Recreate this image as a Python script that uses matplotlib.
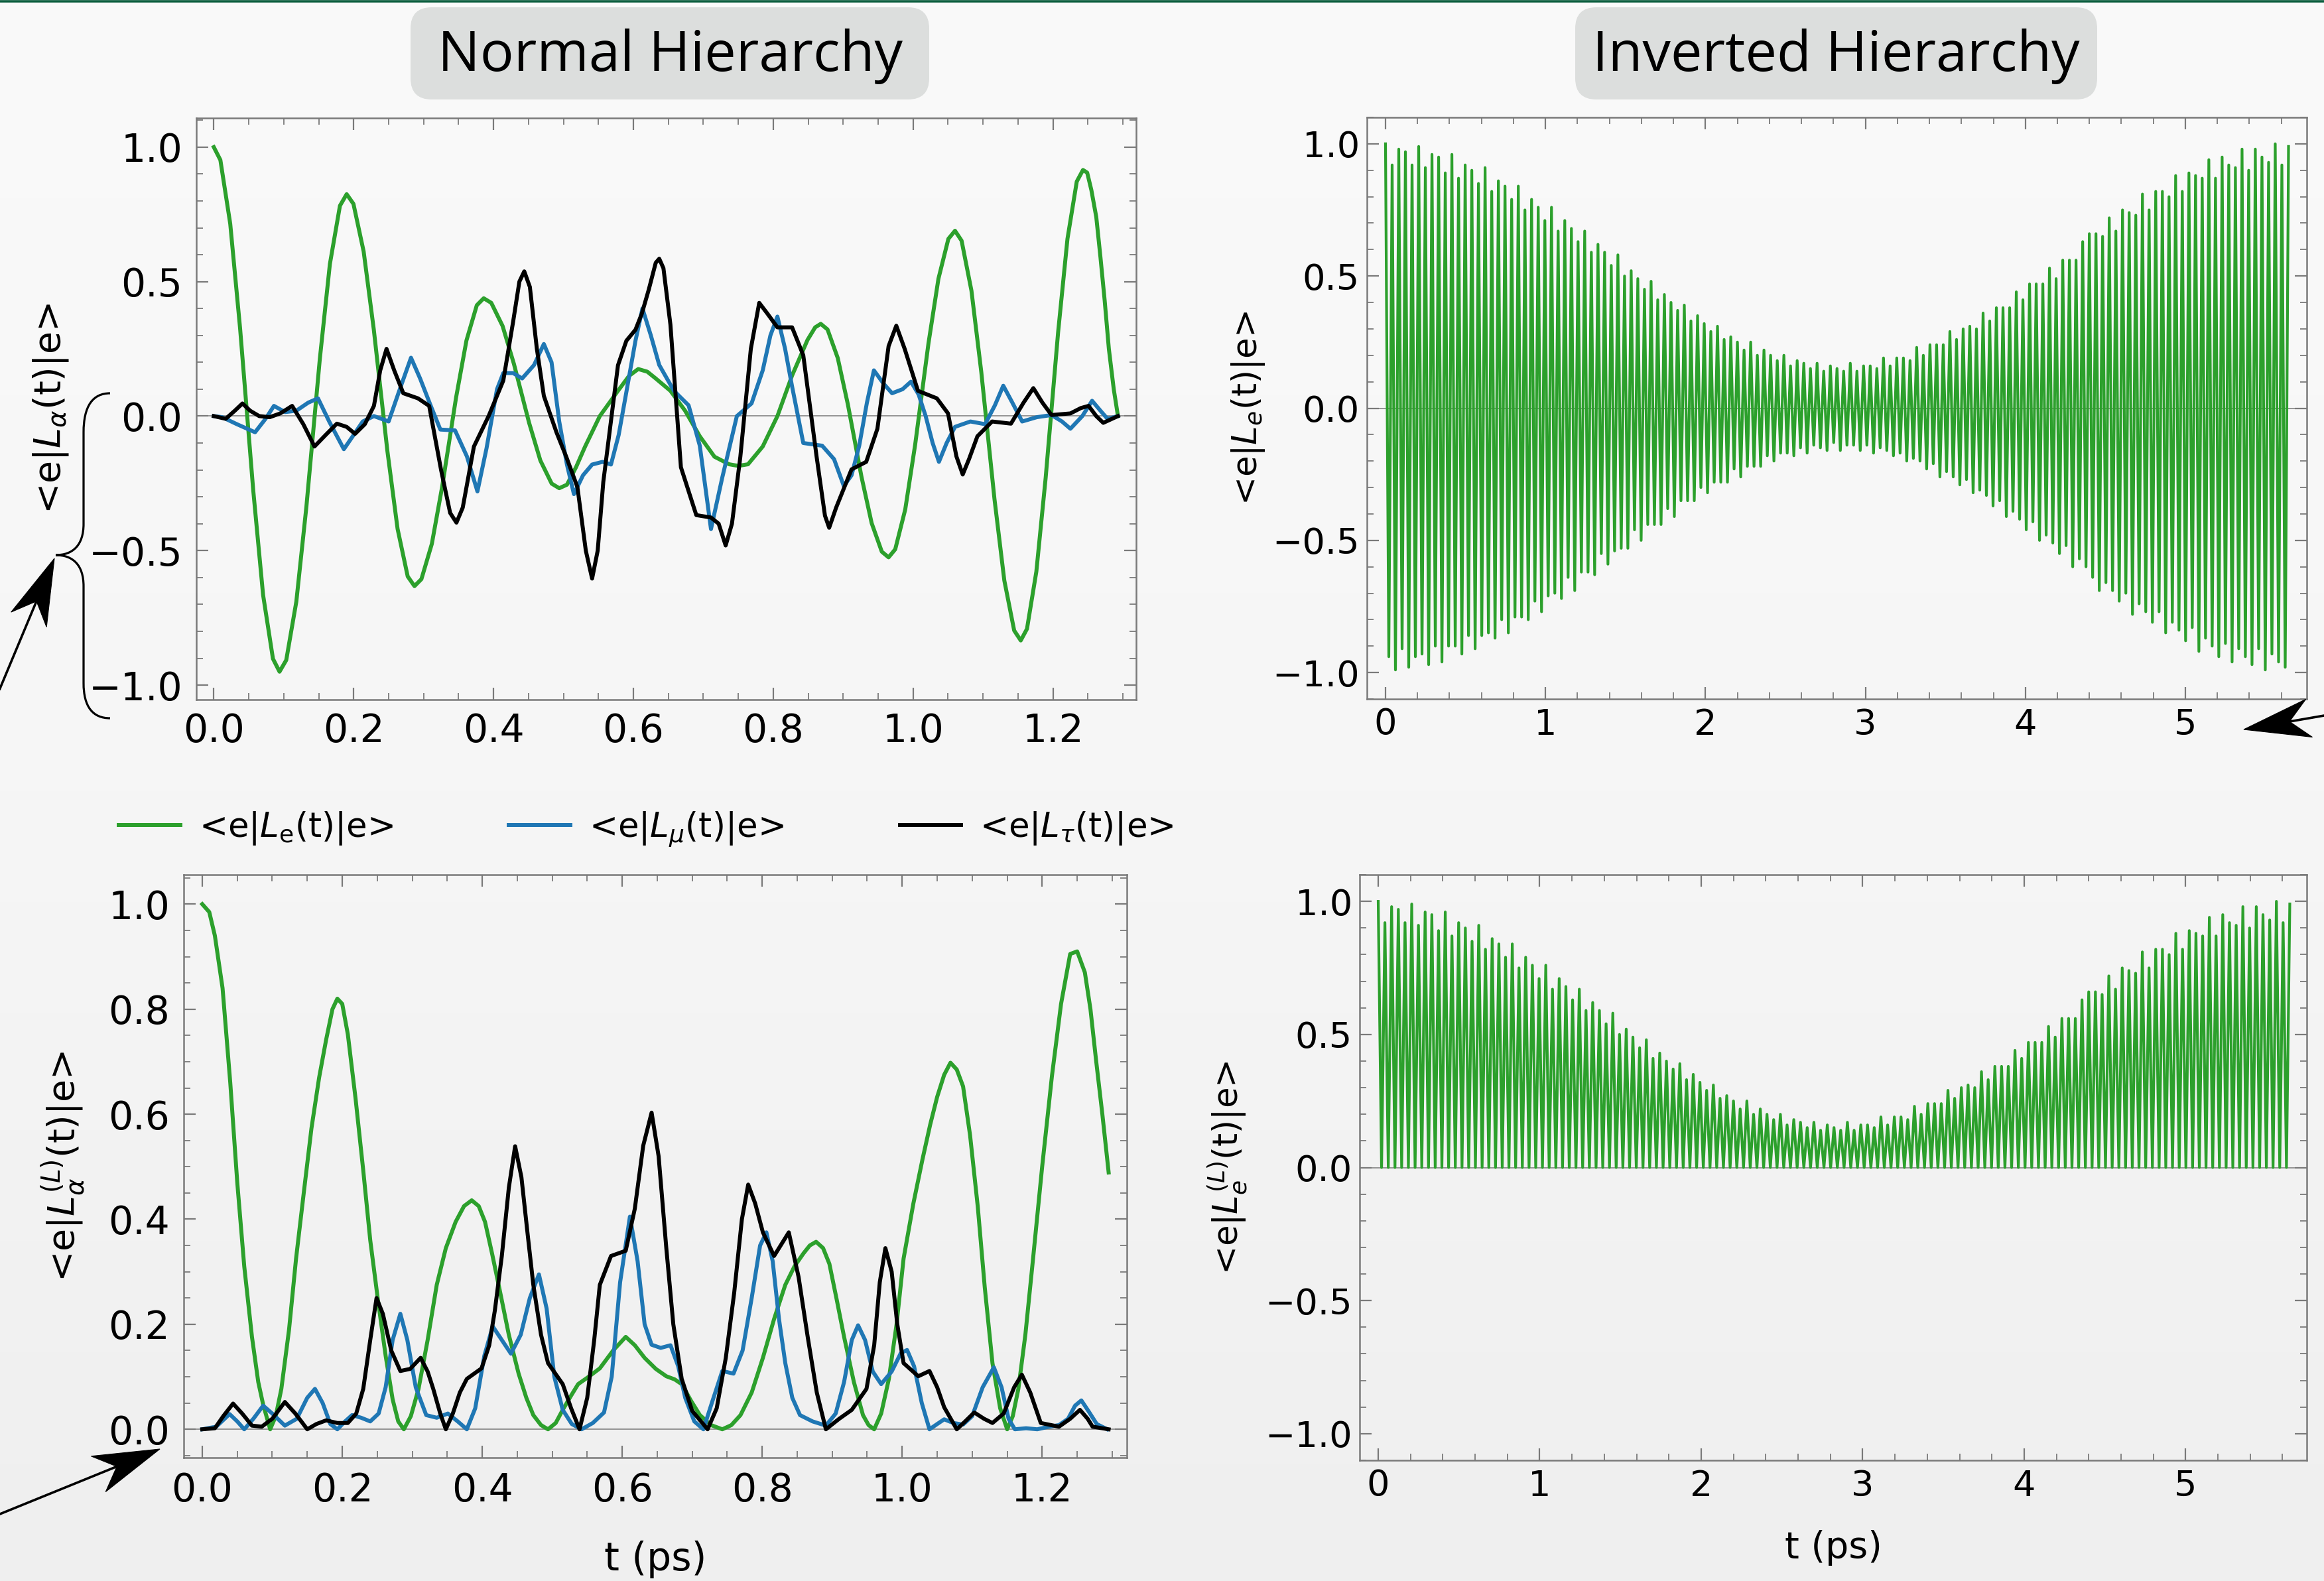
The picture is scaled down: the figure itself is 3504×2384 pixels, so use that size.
import numpy as np
import matplotlib
matplotlib.use("Agg")
import matplotlib.pyplot as plt
from matplotlib.ticker import MultipleLocator
from matplotlib.patches import FancyBboxPatch, PathPatch, Polygon
from matplotlib.path import Path
from matplotlib.lines import Line2D
from matplotlib.colors import LinearSegmentedColormap

# ---------------- data ----------------
# Normal hierarchy, <e|L_alpha(t)|e>   (t in ps, value)
NH_GREEN = [(0.0, 1.0), (0.0094, 0.952), (0.0235, 0.715), (0.0376, 0.326), (0.0564, -0.276), (0.0705, -0.665),
            (0.0846, -0.902), (0.094, -0.95), (0.1036, -0.907), (0.118, -0.690), (0.1324, -0.337), (0.1516, 0.212),
            (0.166, 0.565), (0.1804, 0.782), (0.190, 0.825), (0.1997, 0.789), (0.2143, 0.612), (0.2288, 0.322),
            (0.2482, -0.129), (0.2628, -0.419), (0.2773, -0.596), (0.287, -0.632), (0.2969, -0.606), (0.3118, -0.475),
            (0.3266, -0.262), (0.3464, 0.068), (0.3613, 0.281), (0.3761, 0.412), (0.386, 0.438), (0.3968, 0.421),
            (0.413, 0.335), (0.4292, 0.194), (0.4508, -0.024), (0.467, -0.165), (0.4832, -0.251), (0.494, -0.268),
            (0.505, -0.255), (0.518, -0.19), (0.531, -0.113), (0.552, 0.0), (0.578, 0.094), (0.594, 0.15),
            (0.607, 0.175), (0.620, 0.165), (0.631, 0.142), (0.653, 0.094), (0.674, 0.02), (0.695, -0.075),
            (0.716, -0.151), (0.737, -0.179), (0.750, -0.185), (0.764, -0.179), (0.785, -0.113), (0.806, 0.0),
            (0.827, 0.151), (0.849, 0.283), (0.860, 0.33), (0.868, 0.343), (0.8777, 0.322), (0.8923, 0.216),
            (0.9068, 0.043), (0.9262, -0.225), (0.9408, -0.398), (0.9553, -0.504), (0.965, -0.525), (0.9745, -0.495),
            (0.9888, -0.347), (1.003, -0.106), (1.022, 0.270), (1.0363, 0.511), (1.0505, 0.659), (1.060, 0.689),
            (1.0694, 0.652), (1.0835, 0.466), (1.0976, 0.163), (1.1164, -0.308), (1.1305, -0.611), (1.1446, -0.797),
            (1.154, -0.834), (1.1629, -0.791), (1.1763, -0.578), (1.1896, -0.230), (1.2074, 0.311), (1.2208, 0.659),
            (1.2341, 0.872), (1.243, 0.915), (1.249, 0.905), (1.255, 0.84), (1.262, 0.74), (1.268, 0.59),
            (1.274, 0.43), (1.280, 0.25), (1.287, 0.10), (1.293, 0.0)]

NH_BLUE = [(0.0, 0.0), (0.012, -0.004), (0.033, -0.03), (0.059, -0.06), (0.074, -0.01), (0.086, 0.038), (0.102, 0.015),
           (0.118, 0.02), (0.135, 0.05), (0.149, 0.066), (0.165, -0.02), (0.186, -0.123), (0.200, -0.07), (0.213, -0.02),
           (0.229, 0.0), (0.250, -0.02), (0.266, 0.10), (0.282, 0.217), (0.295, 0.14), (0.310, 0.04), (0.324, -0.05),
           (0.345, -0.053), (0.362, -0.15), (0.377, -0.28), (0.390, -0.12), (0.405, 0.10), (0.414, 0.16), (0.428, 0.16),
           (0.441, 0.14), (0.458, 0.19), (0.472, 0.268), (0.483, 0.20), (0.494, -0.02), (0.505, -0.18), (0.515, -0.29),
           (0.528, -0.22), (0.541, -0.18), (0.556, -0.17), (0.568, -0.18), (0.579, -0.07), (0.589, 0.075), (0.603, 0.28),
           (0.613, 0.40), (0.625, 0.30), (0.637, 0.19), (0.658, 0.094), (0.679, 0.04), (0.695, -0.11), (0.711, -0.42),
           (0.727, -0.23), (0.748, 0.0), (0.769, 0.047), (0.785, 0.17), (0.796, 0.30), (0.806, 0.37), (0.817, 0.25),
           (0.827, 0.11), (0.843, -0.10), (0.870, -0.11), (0.887, -0.16), (0.901, -0.26), (0.912, -0.22), (0.923, -0.11),
           (0.934, 0.05), (0.944, 0.17), (0.958, 0.12), (0.970, 0.085), (0.985, 0.10), (0.997, 0.128), (1.008, 0.08),
           (1.018, 0.0), (1.028, -0.10), (1.037, -0.17), (1.048, -0.10), (1.060, -0.04), (1.082, -0.02), (1.103, -0.03),
           (1.117, 0.04), (1.129, 0.113), (1.142, 0.05), (1.156, -0.02), (1.177, -0.004), (1.198, 0.004), (1.213, -0.02),
           (1.225, -0.047), (1.242, 0.0), (1.256, 0.057), (1.268, 0.02), (1.278, -0.01), (1.293, 0.0)]

NH_BLACK = [(0.0, 0.0), (0.017, -0.01), (0.030, 0.02), (0.041, 0.047), (0.052, 0.02), (0.065, 0.0), (0.080, -0.004),
            (0.095, 0.01), (0.112, 0.038), (0.128, -0.03), (0.144, -0.113), (0.160, -0.07), (0.176, -0.028),
            (0.190, -0.04), (0.202, -0.066), (0.216, -0.03), (0.229, 0.038), (0.238, 0.17), (0.247, 0.25),
            (0.258, 0.17), (0.271, 0.085), (0.292, 0.066), (0.308, 0.038), (0.325, -0.20), (0.338, -0.36),
            (0.347, -0.396), (0.356, -0.34), (0.372, -0.113), (0.393, 0.0), (0.414, 0.132), (0.428, 0.35),
            (0.437, 0.50), (0.444, 0.538), (0.452, 0.48), (0.462, 0.25), (0.472, 0.075), (0.490, -0.06),
            (0.504, -0.151), (0.520, -0.264), (0.532, -0.50), (0.541, -0.604), (0.549, -0.50), (0.557, -0.245),
            (0.578, 0.189), (0.590, 0.28), (0.603, 0.321), (0.612, 0.38), (0.622, 0.47), (0.632, 0.57), (0.637, 0.585),
            (0.643, 0.55), (0.653, 0.34), (0.668, -0.19), (0.690, -0.368), (0.711, -0.377), (0.722, -0.40),
            (0.732, -0.481), (0.741, -0.40), (0.753, -0.151), (0.768, 0.25), (0.780, 0.421), (0.792, 0.38),
            (0.806, 0.33), (0.827, 0.33), (0.843, 0.226), (0.862, -0.15), (0.874, -0.37), (0.880, -0.415),
            (0.890, -0.34), (0.912, -0.198), (0.933, -0.17), (0.949, -0.047), (0.965, 0.26), (0.976, 0.336),
            (0.988, 0.25), (1.007, 0.094), (1.034, 0.066), (1.050, 0.01), (1.062, -0.15), (1.071, -0.217),
            (1.080, -0.16), (1.092, -0.075), (1.113, -0.02), (1.140, -0.028), (1.158, 0.05), (1.172, 0.104),
            (1.185, 0.05), (1.198, 0.004), (1.225, 0.01), (1.240, 0.03), (1.251, 0.038), (1.262, 0.0),
            (1.272, -0.025), (1.293, 0.0)]

# Normal hierarchy, <e|L^(L)_alpha(t)|e>
NHL_GREEN = [(0.0, 1.0), (0.010, 0.985), (0.018, 0.94), (0.029, 0.84), (0.040, 0.66), (0.050, 0.47), (0.060, 0.31),
             (0.071, 0.176), (0.080, 0.09), (0.087, 0.047), (0.097, 0.0), (0.105, 0.025), (0.113, 0.077), (0.124, 0.19),
             (0.134, 0.325), (0.145, 0.45), (0.156, 0.573), (0.167, 0.67), (0.177, 0.742), (0.186, 0.80), (0.193, 0.82),
             (0.200, 0.81), (0.208, 0.752), (0.219, 0.63), (0.230, 0.493), (0.240, 0.36), (0.251, 0.246), (0.262, 0.14),
             (0.272, 0.057), (0.280, 0.015), (0.288, 0.0), (0.298, 0.025), (0.309, 0.077), (0.322, 0.17), (0.335, 0.275),
             (0.348, 0.345), (0.362, 0.395), (0.374, 0.425), (0.385, 0.436), (0.395, 0.425), (0.404, 0.395),
             (0.414, 0.335), (0.425, 0.265), (0.438, 0.18), (0.452, 0.106), (0.463, 0.06), (0.473, 0.027),
             (0.484, 0.008), (0.494, 0.0), (0.505, 0.012), (0.515, 0.037), (0.526, 0.062), (0.537, 0.086),
             (0.552, 0.10), (0.568, 0.116), (0.587, 0.15), (0.605, 0.176), (0.618, 0.16), (0.632, 0.136),
             (0.648, 0.115), (0.663, 0.101), (0.675, 0.095), (0.685, 0.086), (0.698, 0.055), (0.711, 0.027),
             (0.727, 0.008), (0.743, 0.0), (0.756, 0.008), (0.769, 0.027), (0.785, 0.07), (0.801, 0.136), (0.817, 0.21),
             (0.833, 0.275), (0.846, 0.31), (0.859, 0.335), (0.868, 0.35), (0.877, 0.357), (0.887, 0.345),
             (0.896, 0.315), (0.906, 0.25), (0.917, 0.176), (0.931, 0.09), (0.944, 0.027), (0.952, 0.008),
             (0.960, 0.0), (0.970, 0.03), (0.981, 0.096), (0.992, 0.20), (1.002, 0.325), (1.016, 0.43), (1.029, 0.514),
             (1.040, 0.58), (1.050, 0.633), (1.060, 0.675), (1.069, 0.698), (1.078, 0.685), (1.087, 0.653),
             (1.097, 0.56), (1.108, 0.424), (1.118, 0.27), (1.129, 0.126), (1.140, 0.04), (1.150, 0.0), (1.158, 0.025),
             (1.166, 0.077), (1.176, 0.18), (1.187, 0.325), (1.200, 0.50), (1.214, 0.673), (1.227, 0.81),
             (1.240, 0.905), (1.250, 0.91), (1.261, 0.87), (1.269, 0.80), (1.277, 0.703), (1.286, 0.60), (1.295, 0.489)]

NHL_BLUE = [(0.0, 0.0), (0.02, 0.005), (0.039, 0.029), (0.05, 0.015), (0.06, 0.0), (0.073, 0.02), (0.087, 0.045),
            (0.1, 0.03), (0.118, 0.007), (0.135, 0.02), (0.15, 0.06), (0.161, 0.077), (0.172, 0.05), (0.183, 0.01),
            (0.193, 0.0), (0.204, 0.015), (0.214, 0.027), (0.227, 0.022), (0.24, 0.015), (0.252, 0.03), (0.262, 0.08),
            (0.272, 0.17), (0.283, 0.22), (0.293, 0.17), (0.305, 0.08), (0.32, 0.027), (0.335, 0.022), (0.351, 0.03),
            (0.365, 0.015), (0.378, 0.0), (0.39, 0.04), (0.403, 0.14), (0.415, 0.196), (0.428, 0.17), (0.441, 0.144),
            (0.455, 0.18), (0.468, 0.25), (0.481, 0.295), (0.492, 0.23), (0.503, 0.10), (0.515, 0.037), (0.528, 0.01),
            (0.542, 0.0), (0.558, 0.012), (0.574, 0.032), (0.585, 0.10), (0.597, 0.28), (0.611, 0.405), (0.622, 0.32),
            (0.632, 0.20), (0.642, 0.161), (0.655, 0.155), (0.669, 0.16), (0.68, 0.12), (0.69, 0.06), (0.703, 0.015),
            (0.716, 0.0), (0.728, 0.05), (0.743, 0.111), (0.759, 0.106), (0.772, 0.15), (0.785, 0.25), (0.797, 0.35),
            (0.806, 0.375), (0.815, 0.32), (0.824, 0.21), (0.833, 0.126), (0.843, 0.06), (0.854, 0.027),
            (0.872, 0.015), (0.891, 0.007), (0.905, 0.03), (0.917, 0.09), (0.928, 0.17), (0.937, 0.198),
            (0.947, 0.17), (0.958, 0.11), (0.97, 0.086), (0.985, 0.11), (0.998, 0.145), (1.007, 0.151),
            (1.017, 0.12), (1.028, 0.05), (1.039, 0.0), (1.05, 0.01), (1.06, 0.019), (1.073, 0.012), (1.087, 0.009),
            (1.1, 0.025), (1.115, 0.08), (1.131, 0.118), (1.142, 0.08), (1.152, 0.02), (1.161, 0.0), (1.177, 0.002),
            (1.193, 0.0), (1.21, 0.005), (1.224, 0.008), (1.237, 0.02), (1.247, 0.045), (1.256, 0.055),
            (1.266, 0.035), (1.278, 0.01), (1.293, 0.0)]

NHL_BLACK = [(0.0, 0.0), (0.018, 0.002), (0.03, 0.025), (0.044, 0.049), (0.057, 0.03), (0.071, 0.007), (0.085, 0.005),
             (0.1, 0.02), (0.118, 0.052), (0.133, 0.03), (0.15, 0.0), (0.163, 0.01), (0.177, 0.017), (0.193, 0.012),
             (0.208, 0.012), (0.22, 0.03), (0.23, 0.077), (0.24, 0.17), (0.249, 0.25), (0.258, 0.22), (0.27, 0.15),
             (0.283, 0.111), (0.297, 0.115), (0.312, 0.136), (0.322, 0.11), (0.33, 0.077), (0.34, 0.03), (0.348, 0.0),
             (0.358, 0.03), (0.368, 0.07), (0.378, 0.096), (0.399, 0.116), (0.41, 0.16), (0.418, 0.226), (0.428, 0.33),
             (0.438, 0.46), (0.447, 0.539), (0.456, 0.48), (0.465, 0.37), (0.473, 0.275), (0.484, 0.18), (0.494, 0.126),
             (0.515, 0.086), (0.527, 0.04), (0.539, 0.0), (0.55, 0.06), (0.56, 0.17), (0.568, 0.275), (0.584, 0.33),
             (0.605, 0.34), (0.618, 0.42), (0.63, 0.54), (0.642, 0.603), (0.652, 0.52), (0.663, 0.345), (0.673, 0.2),
             (0.685, 0.096), (0.7, 0.035), (0.722, 0.0), (0.735, 0.04), (0.748, 0.136), (0.76, 0.26), (0.771, 0.40),
             (0.78, 0.466), (0.79, 0.43), (0.801, 0.375), (0.817, 0.33), (0.838, 0.375), (0.852, 0.29), (0.865, 0.176),
             (0.878, 0.07), (0.891, 0.0), (0.91, 0.02), (0.928, 0.037), (0.949, 0.077), (0.96, 0.16), (0.968, 0.28),
             (0.976, 0.345), (0.985, 0.30), (0.993, 0.2), (1.002, 0.126), (1.023, 0.101), (1.039, 0.111), (1.05, 0.08),
             (1.06, 0.042), (1.078, 0.0), (1.09, 0.015), (1.103, 0.032), (1.117, 0.02), (1.129, 0.012), (1.145, 0.03),
             (1.16, 0.08), (1.171, 0.104), (1.183, 0.07), (1.198, 0.012), (1.224, 0.005), (1.24, 0.02), (1.254, 0.037),
             (1.265, 0.02), (1.272, 0.005), (1.295, 0.0)]

# Inverted hierarchy: successive maxima and minima of the fast oscillation
IH_T_END = 5.645
IH_PEAKS = [1.00, 0.92, 0.98, 0.97, 0.92, 0.99, 0.91, 0.96, 0.95, 0.89, 0.96, 0.87, 0.92, 0.90, 0.85, 0.91, 0.82,
            0.86, 0.84, 0.79, 0.84, 0.75, 0.79, 0.76, 0.71,
            0.76, 0.67, 0.71, 0.68, 0.63, 0.67, 0.59, 0.62, 0.59, 0.54, 0.58, 0.50, 0.52, 0.49, 0.45, 0.48, 0.41,
            0.43, 0.40, 0.37, 0.39, 0.33, 0.35, 0.32, 0.29,
            0.31, 0.26, 0.27, 0.25, 0.22, 0.25, 0.20, 0.22, 0.20, 0.18, 0.20, 0.16, 0.18, 0.17, 0.15, 0.17, 0.14,
            0.16, 0.15, 0.14, 0.17, 0.14, 0.16, 0.16, 0.15,
            0.19, 0.16, 0.19, 0.19, 0.18, 0.23, 0.20, 0.24, 0.24, 0.24, 0.29, 0.26, 0.30, 0.31, 0.30, 0.36, 0.33,
            0.38, 0.38, 0.38, 0.44, 0.41, 0.47, 0.47, 0.47,
            0.53, 0.49, 0.56, 0.56, 0.56, 0.63, 0.66, 0.66, 0.65, 0.72, 0.67, 0.75, 0.74, 0.73, 0.81, 0.75, 0.82,
            0.82, 0.80, 0.88, 0.82, 0.89, 0.88, 0.87,
            0.94, 0.87, 0.95, 0.92, 0.91, 0.98, 0.90, 0.98, 0.95, 0.93, 1.00, 0.92, 0.99]
IH_TROUGHS = [-0.94, -0.99, -0.91, -0.98, -0.94, -0.93, -0.97, -0.90, -0.96, -0.90, -0.90, -0.93, -0.86, -0.91,
              -0.86, -0.85, -0.87, -0.80, -0.85, -0.79, -0.79, -0.80, -0.73, -0.77,
              -0.71, -0.70, -0.72, -0.64, -0.69, -0.62, -0.62, -0.63, -0.55, -0.59, -0.54, -0.53, -0.53, -0.46,
              -0.50, -0.44, -0.44, -0.44, -0.38, -0.41, -0.35, -0.35, -0.35, -0.30, -0.32,
              -0.28, -0.28, -0.28, -0.23, -0.26, -0.22, -0.22, -0.22, -0.18, -0.20, -0.17, -0.17, -0.18, -0.15,
              -0.17, -0.14, -0.15, -0.16, -0.13, -0.16, -0.14, -0.14, -0.16, -0.14, -0.17,
              -0.15, -0.16, -0.18, -0.17, -0.20, -0.19, -0.20, -0.23, -0.21, -0.26, -0.24, -0.26, -0.29, -0.27,
              -0.32, -0.31, -0.33, -0.37, -0.35, -0.41, -0.39, -0.42, -0.46, -0.43, -0.50,
              -0.48, -0.51, -0.55, -0.52, -0.60, -0.57, -0.60, -0.64, -0.69, -0.66, -0.69, -0.73, -0.70, -0.78,
              -0.74, -0.77, -0.81, -0.77, -0.85, -0.81, -0.84, -0.88, -0.83, -0.92, -0.87,
              -0.90, -0.94, -0.89, -0.96, -0.91, -0.94, -0.97, -0.91, -0.99, -0.93, -0.96, -0.98]

LEGEND_LABELS = [r"<e|$L_\mathrm{e}$(t)|e>", r"<e|$L_\mu$(t)|e>", r"<e|$L_\tau$(t)|e>"]
TITLES = ["Normal Hierarchy", "Inverted Hierarchy"]

# ---------------- figure ----------------
W, H = 3504, 2384
fig = plt.figure(figsize=(W / 100, H / 100), dpi=100)

GREEN, BLUE, BLACK = "#2ca02c", "#1f77b4", "black"
SPINE = "#7a7a7a"
LW_L = 4.3
LW_R = 3.0

# background gradient
bg = fig.add_axes([0, 0, 1, 1], zorder=-10)
bg_cmap = LinearSegmentedColormap.from_list("bg", ["#fafafa", "#f6f6f6", "#efefef"])
bg.imshow(np.linspace(0, 1, 256).reshape(-1, 1), aspect="auto", cmap=bg_cmap, extent=[0, 1, 0, 1], origin="upper")
bg.set_axis_off()


def px_box(l, t, r, b):
    return [l / W, 1 - b / H, (r - l) / W, (b - t) / H]


ax_tl = fig.add_axes(px_box(296, 178, 1713, 1055))
ax_tr = fig.add_axes(px_box(2061, 177, 3478, 1054))
ax_bl = fig.add_axes(px_box(277, 1319, 1699, 2198))
ax_br = fig.add_axes(px_box(2050, 1319, 3478, 2202))


def style(ax, xmaj, xmin, ymaj, ymin, xpad, ypad, lsize):
    ax.set_facecolor("none")
    for s in ax.spines.values():
        s.set_color(SPINE)
        s.set_linewidth(1.8)
    ax.xaxis.set_major_locator(MultipleLocator(xmaj))
    ax.xaxis.set_minor_locator(MultipleLocator(xmin))
    ax.yaxis.set_major_locator(MultipleLocator(ymaj))
    ax.yaxis.set_minor_locator(MultipleLocator(ymin))
    ax.tick_params(which="both", direction="in", top=True, right=True, color=SPINE, labelsize=lsize)
    ax.tick_params(which="major", length=13, width=1.6)
    ax.tick_params(which="minor", length=7, width=1.3)
    ax.tick_params(axis="x", pad=xpad)
    ax.tick_params(axis="y", pad=ypad)
    ax.axhline(0, color="#8c8c8c", lw=1.3, zorder=1)


def xy(pairs):
    a = np.array(pairs)
    return a[:, 0], a[:, 1]


# --- top left
for data, col in zip([NH_GREEN, NH_BLUE, NH_BLACK], [GREEN, BLUE, BLACK]):
    t, v = xy(data)
    ax_tl.plot(t, v, color=col, lw=LW_L, zorder=3, solid_joinstyle="round")
ax_tl.set_xlim(-0.025, 1.319)
ax_tl.set_ylim(-1.054, 1.108)
style(ax_tl, 0.2, 0.05, 0.5, 0.1, 14, 15, 42)
ax_tl.set_ylabel(r"<e|$L_\alpha$(t)|e>", fontsize=40, va="center")
ax_tl.yaxis.set_label_coords(-0.155, 0.5)

# --- bottom left
handles = []
for data, col, lab in zip([NHL_GREEN, NHL_BLUE, NHL_BLACK], [GREEN, BLUE, BLACK], LEGEND_LABELS):
    t, v = xy(data)
    h, = ax_bl.plot(t, v, color=col, lw=LW_L, zorder=3, label=lab, solid_joinstyle="round")
    handles.append(h)
ax_bl.set_xlim(-0.0265, 1.321)
ax_bl.set_ylim(-0.054, 1.056)
style(ax_bl, 0.2, 0.05, 0.2, 0.05, 15, 15, 42)
ax_bl.set_ylabel(r"<e|$L_\alpha^{(L)}$(t)|e>", fontsize=40, va="center")
ax_bl.yaxis.set_label_coords(-0.128, 0.5)
ax_bl.set_xlabel("t (ps)", fontsize=42, va="center")
ax_bl.xaxis.set_label_coords(0.5, -0.175)

# --- inverted hierarchy (zig-zag through read extrema)
n_pts = len(IH_PEAKS) + len(IH_TROUGHS)
t_ih = np.linspace(0, IH_T_END, n_pts)
v_ih = np.empty(n_pts)
v_ih[0::2] = IH_PEAKS
v_ih[1::2] = IH_TROUGHS
v_ihl = np.empty(n_pts)
v_ihl[0::2] = IH_PEAKS
v_ihl[1::2] = 0.0

ax_tr.plot(t_ih, v_ih, color=GREEN, lw=LW_R, zorder=3, solid_joinstyle="round")
ax_tr.set_xlim(-0.116, 5.759)
ax_tr.set_ylim(-1.1, 1.1)
style(ax_tr, 1, 0.2, 0.5, 0.1, 9, 8, 39)
ax_tr.set_ylabel(r"<e|$L_e$(t)|e>", fontsize=37, va="center")
ax_tr.yaxis.set_label_coords(-0.126, 0.5)

ax_br.plot(t_ih, v_ihl, color=GREEN, lw=LW_R, zorder=3, solid_joinstyle="round")
ax_br.set_xlim(-0.115, 5.75)
ax_br.set_ylim(-1.1, 1.1)
style(ax_br, 1, 0.2, 0.5, 0.1, 9, 8, 39)
ax_br.set_ylabel(r"<e|$L_e^{(L)}$(t)|e>", fontsize=37, va="center")
ax_br.yaxis.set_label_coords(-0.139, 0.5)
ax_br.set_xlabel("t (ps)", fontsize=40, va="center")
ax_br.xaxis.set_label_coords(0.5, -0.149)

# --- legend
fig.legend(handles=handles, labels=LEGEND_LABELS, loc="center left", bbox_to_anchor=(179 / W, 1 - 1250 / H),
           bbox_transform=fig.transFigure, ncol=3, frameon=False, fontsize=37, handlelength=1.8,
           handletextpad=0.55, columnspacing=3.4, borderpad=0, borderaxespad=0)

# --- titles in rounded boxes
for title, (x0, x1) in zip(TITLES, [(619, 1401), (2375, 3162)]):
    box = FancyBboxPatch(((x0) / 100, (H - 150) / 100), (x1 - x0) / 100, 1.39,
                         boxstyle="round,pad=0,rounding_size=0.32", transform=fig.dpi_scale_trans,
                         facecolor="#dcdedd", edgecolor="none", zorder=2)
    fig.add_artist(box)
    fig.text((x0 + x1) / 2 / W, 1 - 85 / H, title, ha="center", va="center", fontsize=61,
             family=["Open Sans", "DejaVu Sans"], zorder=3)

# --- top border line
fig.add_artist(Line2D([0, 1], [1 - 1.5 / H, 1 - 1.5 / H], transform=fig.transFigure, color="#0b5e3e", lw=2.6))


def fpt(x, y):
    return (x / W, 1 - y / H)


# --- curly brace next to the top-left y label (pixel coords, y down)
brace_pts = [(166, 593), (140, 593), (126, 612), (126, 652),
             (126, 790),
             (126, 822), (110, 837), (84, 837),
             (110, 837), (126, 852), (126, 884),
             (126, 1030),
             (126, 1066), (140, 1083), (166, 1083)]
codes = [Path.MOVETO, Path.CURVE4, Path.CURVE4, Path.CURVE4,
         Path.LINETO,
         Path.CURVE4, Path.CURVE4, Path.CURVE4,
         Path.CURVE4, Path.CURVE4, Path.CURVE4,
         Path.LINETO,
         Path.CURVE4, Path.CURVE4, Path.CURVE4]
brace = PathPatch(Path([fpt(*p) for p in brace_pts], codes), transform=fig.transFigure,
                  fill=False, lw=2.3, edgecolor="black")
fig.add_artist(brace)


# --- arrows with swept-back ("stealth") heads, pixel coords
def stealth_arrow(tail, tip, notch=70.0, back=100.0, half=29.0):
    tail = np.array(tail, float)
    tip = np.array(tip, float)
    u = (tip - tail) / np.hypot(*(tip - tail))
    n = np.array([-u[1], u[0]])
    nt = tip - notch * u
    b1 = tip - back * u + half * n
    b2 = tip - back * u - half * n
    fig.add_artist(Line2D([tail[0] / W, nt[0] / W], [1 - tail[1] / H, 1 - nt[1] / H],
                          transform=fig.transFigure, color="black", lw=2.6, solid_capstyle="butt"))
    head = Polygon([fpt(*tip), fpt(*b1), fpt(*nt), fpt(*b2)], closed=True, transform=fig.transFigure,
                   facecolor="black", edgecolor="black", lw=0.8)
    fig.add_artist(head)


stealth_arrow((-5, 1050), (82, 842))
stealth_arrow((-5, 2285), (241, 2185))
stealth_arrow((3510, 1078), (3383, 1100))

fig.savefig("out.png", dpi=100)
